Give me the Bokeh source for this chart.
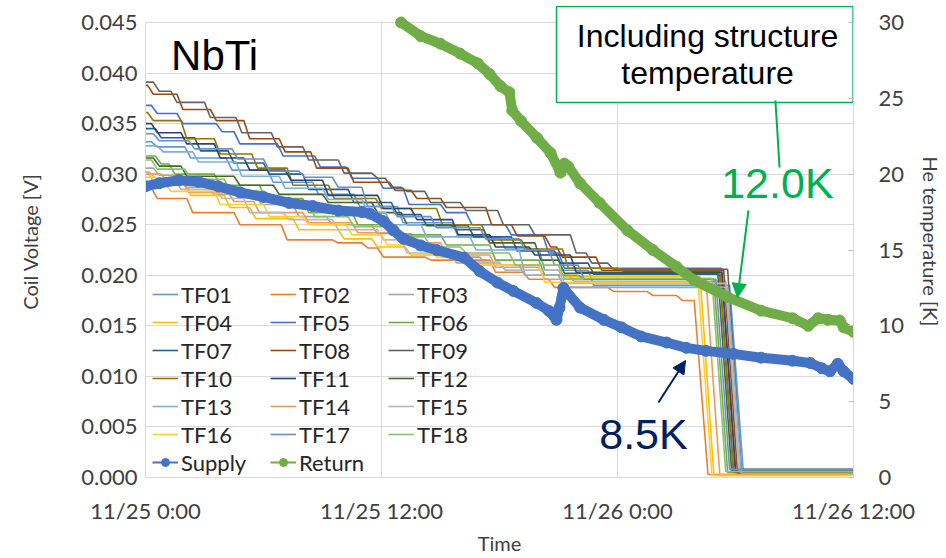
from bokeh.plotting import figure
from bokeh.models import (Range1d, LinearAxis, FixedTicker, Legend, LegendItem, Label,
                          Arrow, NormalHead, NumeralTickFormatter)
from bokeh.embed import file_html
from bokeh.resources import INLINE

# ---------------- data (time = hours from 11/25 0:00) ----------------
x_ticks = [0, 12, 24, 36]
x_labels = ["11/25 0:00", "11/25 12:00", "11/26 0:00", "11/26 12:00"]
v_ticks = [0.000, 0.005, 0.010, 0.015, 0.020, 0.025, 0.030, 0.035, 0.040, 0.045]
k_ticks = [0, 5, 10, 15, 20, 25, 30]

tf_names = ["TF01", "TF02", "TF03", "TF04", "TF05", "TF06", "TF07", "TF08", "TF09",
            "TF10", "TF11", "TF12", "TF13", "TF14", "TF15", "TF16", "TF17", "TF18"]
tf_colors = ["#5B9BD5", "#ED7D31", "#A5A5A5", "#FFC000", "#4472C4", "#70AD47",
             "#255E91", "#9E480E", "#636363", "#997300", "#264478", "#43682B",
             "#7CAFDD", "#F1975A", "#B7B7B7", "#FFCD33", "#698ED0", "#8CC168"]

# step levels of each coil voltage: (hour, volt)
tf01 = [(0, 0.0332), (0.3, 0.0327), (2.0, 0.0316), (4.1, 0.0304), (6.2, 0.0292), (8.5, 0.0280),
        (10.6, 0.0268), (12.8, 0.0252), (15.6, 0.0238), (18.0, 0.0226), (20.0, 0.0205), (22.5, 0.0190)]
tf02 = [(0, 0.0286), (0.3, 0.0276), (2.1, 0.0262), (4.5, 0.0250), (6.9, 0.0235), (9.5, 0.0232),
        (11.0, 0.0227), (11.8, 0.0218), (14.2, 0.0215), (17.5, 0.0203), (19.2, 0.0196), (20.5, 0.0188),
        (23.5, 0.0184), (25.5, 0.0180), (27.0, 0.0175)]
tf03 = [(0, 0.0306), (0.4, 0.0299), (1.8, 0.0287), (3.2, 0.0280), (5.6, 0.0270), (7.5, 0.0258),
        (9.2, 0.0250), (11.5, 0.0241), (13.5, 0.0225), (15.0, 0.0218), (17.0, 0.0210), (19.0, 0.0200),
        (21.5, 0.0194)]
tf04 = [(0, 0.0302), (0.1, 0.0293), (2.0, 0.0279), (4.0, 0.0267), (5.3, 0.0256), (7.5, 0.0245),
        (9.8, 0.0236), (11.5, 0.0228), (13.2, 0.0220), (15.5, 0.0212), (18.0, 0.0205), (21.0, 0.0199)]
tf05 = [(0, 0.0368), (0.3, 0.0360), (1.6, 0.0350), (3.6, 0.0342), (4.5, 0.0330), (6.7, 0.0318),
        (8.6, 0.0307), (10.2, 0.0296), (11.8, 0.0286), (13.1, 0.0270), (15.0, 0.0262), (16.3, 0.0250),
        (18.3, 0.0240), (20.2, 0.0222), (21.0, 0.0207)]
tf06 = [(0, 0.0318), (0.5, 0.0310), (1.2, 0.0300), (3.5, 0.0289), (5.8, 0.0276), (8.0, 0.0262),
        (10.5, 0.0250), (12.6, 0.0240), (15.0, 0.0230), (17.5, 0.0215), (20.0, 0.0200), (22.0, 0.0196)]
tf07 = [(0, 0.0345), (0.5, 0.0336), (2.5, 0.0323), (4.2, 0.0311), (6.0, 0.0300), (8.0, 0.0285),
        (10.3, 0.0272), (12.5, 0.0260), (14.0, 0.0249), (16.4, 0.0238), (18.6, 0.0224), (20.8, 0.0212),
        (22.5, 0.0201)]
tf08 = [(0, 0.0388), (0.1, 0.0379), (1.6, 0.0364), (3.3, 0.0353), (5.0, 0.0335), (6.8, 0.0322),
        (8.4, 0.0306), (10.3, 0.0292), (12.4, 0.0284), (13.5, 0.0276), (15.0, 0.0267), (17.3, 0.0250),
        (18.6, 0.0239), (20.3, 0.0228), (20.9, 0.0218), (22.9, 0.0205)]
tf09 = [(0, 0.0391), (0.4, 0.0382), (1.3, 0.0371), (3.0, 0.0356), (4.6, 0.0341), (6.4, 0.0327),
        (8.0, 0.0314), (9.8, 0.0301), (11.5, 0.0296), (12.2, 0.0287), (13.0, 0.0283), (14.2, 0.0272),
        (16.0, 0.0264), (17.9, 0.0250), (19.5, 0.0240), (21.6, 0.0222), (22.4, 0.0212), (23.5, 0.0206)]
tf10 = [(0, 0.0361), (0.1, 0.0353), (1.8, 0.0335), (3.5, 0.0320), (5.4, 0.0306), (7.2, 0.0289),
        (9.3, 0.0276), (11.7, 0.0266), (14.8, 0.0250), (17.1, 0.0235), (19.1, 0.0226), (21.2, 0.0207),
        (24.0, 0.0204)]
tf11 = [(0, 0.0350), (0.3, 0.0341), (1.8, 0.0330), (3.5, 0.0316), (5.0, 0.0304), (7.1, 0.0294),
        (9.0, 0.0279), (11.8, 0.0266), (13.5, 0.0255), (15.6, 0.0240), (17.5, 0.0228), (19.5, 0.0220),
        (21.6, 0.0203)]
tf12 = [(0, 0.0316), (0.4, 0.0308), (1.8, 0.0298), (4.5, 0.0289), (6.5, 0.0280), (9.0, 0.0272),
        (11.5, 0.0262), (13.0, 0.0250), (15.5, 0.0245), (17.2, 0.0232), (19.8, 0.0215), (21.0, 0.0202)]
tf13 = [(0, 0.0328), (0.6, 0.0322), (2.4, 0.0312), (4.6, 0.0298), (6.8, 0.0286), (9.0, 0.0275),
        (11.0, 0.0262), (12.2, 0.0250), (14.0, 0.0238), (16.5, 0.0225), (19.0, 0.0200), (21.0, 0.0188)]
tf14 = [(0, 0.0300), (0.8, 0.0292), (1.9, 0.0282), (4.2, 0.0273), (5.5, 0.0262), (8.0, 0.0252),
        (10.5, 0.0242), (12.8, 0.0232), (15.0, 0.0220), (17.5, 0.0208), (20.0, 0.0196)]
tf15 = [(0, 0.0302), (0.2, 0.0296), (1.5, 0.0285), (3.6, 0.0276), (5.0, 0.0262), (7.0, 0.0255),
        (9.5, 0.0245), (11.8, 0.0235), (13.0, 0.0222), (15.5, 0.0213), (18.0, 0.0205), (21.0, 0.0192)]
tf16 = [(0, 0.0297), (0.5, 0.0290), (1.0, 0.0283), (3.5, 0.0270), (6.0, 0.0258), (8.0, 0.0250),
        (10.2, 0.0240), (12.0, 0.0230), (14.5, 0.0218), (16.5, 0.0210), (20.0, 0.0193)]
tf17 = [(0, 0.0340), (0.4, 0.0333), (2.2, 0.0325), (4.4, 0.0315), (6.0, 0.0303), (7.8, 0.0297),
        (9.5, 0.0287), (11.0, 0.0268), (12.5, 0.0258), (14.5, 0.0247), (17.0, 0.0236), (19.0, 0.0225),
        (20.5, 0.0210), (22.0, 0.0196)]
tf18 = [(0, 0.0314), (0.3, 0.0305), (2.0, 0.0295), (4.0, 0.0283), (6.0, 0.0272), (8.3, 0.0258),
        (10.3, 0.0248), (12.5, 0.0238), (14.2, 0.0228), (16.0, 0.0222), (18.5, 0.0210), (21.0, 0.0197)]
tf_steps = [tf01, tf02, tf03, tf04, tf05, tf06, tf07, tf08, tf09,
            tf10, tf11, tf12, tf13, tf14, tf15, tf16, tf17, tf18]

# hour at which each coil voltage falls, and the level it falls to
drop_hour = [29.7, 27.9, 29.5, 28.2, 29.3, 28.9, 29.2, 29.4, 29.6,
             29.2, 29.3, 29.1, 29.6, 28.5, 29.5, 28.1, 29.0, 28.8]
floor_volt = [0.0005, 0.0003, 0.0006, 0.0002, 0.0007, 0.0005, 0.0006, 0.0004, 0.0008,
              0.0005, 0.0006, 0.0007, 0.0004, 0.0003, 0.0006, 0.0002, 0.0008, 0.0006]

supply_h = [0, 0.7, 1.7, 2.7, 3.7, 4.8, 6.0, 7.3, 8.5, 9.8, 11.0, 11.4, 12.1, 12.6, 13.1, 14.0,
            14.8, 16.2, 17.0, 17.9, 18.7, 19.9, 20.5, 20.9, 21.05, 21.25, 22.1, 23.3, 24.2, 25.2,
            26.5, 27.5, 28.5, 29.9, 31.3, 32.9, 33.8, 34.4, 34.8, 35.2, 35.5, 36.0]
supply_k = [19.2, 19.4, 19.6, 19.5, 19.2, 18.8, 18.5, 18.1, 17.9, 17.6, 17.5, 17.4, 16.9, 16.3, 15.75,
            15.3, 15.0, 14.5, 13.6, 12.85, 12.3, 11.5, 11.0, 10.4, 11.2, 12.5, 11.2, 10.4, 9.9, 9.3,
            8.9, 8.55, 8.35, 8.15, 7.9, 7.7, 7.55, 7.2, 7.0, 7.5, 7.0, 6.5]
return_h = [13.0, 14.0, 15.0, 16.0, 16.9, 17.5, 18.05, 18.5, 18.65, 19.1, 19.9, 20.6, 21.1, 21.3,
            21.5, 22.1, 23.1, 24.5, 25.8, 27.0, 27.9, 29.6, 31.3, 32.9, 33.7, 34.2, 34.7, 35.3, 35.5, 36.0]
return_k = [30.0, 29.1, 28.6, 27.95, 27.3, 26.6, 25.8, 25.4, 24.2, 23.5, 22.4, 21.4, 20.1, 20.7,
            20.5, 19.4, 18.1, 16.3, 15.0, 13.9, 13.0, 11.9, 11.0, 10.5, 10.0, 10.5, 10.4, 10.35, 9.9, 9.6]

# ---------------- figure ----------------
GRID = "#D9D9D9"
TXT = "#404040"
TICKFONT = "Lato"
V_MAX = 0.045
K_MAX = 30
HEADROOM = 472.0 / 455.0   # plot frame extends a little above 0.045 so the note box fits
p = figure(width=946, height=558, x_range=Range1d(0, 36), y_range=Range1d(0, V_MAX * HEADROOM),
           output_backend="svg", toolbar_location=None,
           min_border_left=145, min_border_right=93, min_border_top=5, min_border_bottom=81)
p.extra_y_ranges = {"temp": Range1d(0, K_MAX * HEADROOM)}
p.outline_line_color = None
p.background_fill_color = "white"
p.border_fill_color = "white"

# grids: horizontal from ticker, vertical drawn only up to 0.045
p.xgrid.visible = False
p.ygrid.ticker = FixedTicker(ticks=v_ticks)
p.ygrid.grid_line_color = GRID
p.ygrid.grid_line_width = 1
p.segment(x0=x_ticks, y0=[0] * len(x_ticks), x1=x_ticks, y1=[V_MAX] * len(x_ticks),
          line_color=GRID, line_width=1)

# left axis
ya = p.yaxis[0]
ya.ticker = FixedTicker(ticks=v_ticks)
ya.formatter = NumeralTickFormatter(format="0.000")
ya.axis_label = "Coil Voltage [V]"
ya.bounds = (0, V_MAX)
# bottom axis
xa = p.xaxis[0]
xa.ticker = FixedTicker(ticks=x_ticks)
xa.major_label_overrides = {t: l for t, l in zip(x_ticks, x_labels)}
xa.axis_label = "Time"
# right axis
ra = LinearAxis(y_range_name="temp", ticker=FixedTicker(ticks=k_ticks), axis_label="He temperature [K]",
                bounds=(0, K_MAX))
p.add_layout(ra, "right")

for ax in (ya, xa, ra):
    ax.axis_line_color = GRID
    ax.major_tick_out = 0
    ax.major_tick_in = 0
    ax.minor_tick_out = 0
    ax.minor_tick_in = 0
    ax.major_label_text_font = TICKFONT
    ax.major_label_text_font_size = "22px"
    ax.major_label_text_color = TXT
    ax.axis_label_text_font = TICKFONT
    ax.axis_label_text_font_size = "20px"
    ax.axis_label_text_font_style = "normal"
    ax.axis_label_text_color = TXT
ra.major_tick_in = 5
ra.major_tick_line_color = "#BFBFBF"
ya.major_label_standoff = 8
ya.axis_label_standoff = 36
xa.major_label_standoff = 19
xa.axis_label_standoff = 4
ra.major_label_standoff = 25
ra.axis_label_standoff = 12

# ---------------- coil voltage lines ----------------
tf_renderers = []
for steps, td, vf, col in zip(tf_steps, drop_hour, floor_volt, tf_colors):
    xs = [steps[0][0]]
    ys = [steps[0][1]]
    for t, v in steps[1:]:
        xs += [t, t + 0.3]
        ys += [ys[-1], v]
    xs += [td, td + 0.7, 36]
    ys += [ys[-1], vf, vf]
    r = p.line(xs, ys, line_color=col, line_width=1.6)
    tf_renderers.append(r)

# ---------------- He temperatures ----------------
SUP = "#4472C4"
RET = "#70AD47"
p.line(supply_h, supply_k, y_range_name="temp", line_color=SUP, line_width=10, line_join="round", line_cap="round")
p.scatter(supply_h, supply_k, y_range_name="temp", marker="circle", size=11, fill_color=SUP, line_color=SUP)
p.line(return_h, return_k, y_range_name="temp", line_color=RET, line_width=10, line_join="round", line_cap="round")
p.scatter(return_h, return_k, y_range_name="temp", marker="circle", size=11, fill_color=RET, line_color=RET)

# legend-only glyphs for Supply / Return (placed outside the visible ranges)
sup_l = p.line([-10, -9], [-1, -1], line_color=SUP, line_width=2)
sup_m = p.scatter([-10], [-1], marker="circle", size=7, fill_color=SUP, line_color=SUP)
ret_l = p.line([-10, -9], [-1, -1], line_color=RET, line_width=2)
ret_m = p.scatter([-10], [-1], marker="circle", size=7, fill_color=RET, line_color=RET)

cols = [[], [], []]
for i, (nm, r) in enumerate(zip(tf_names, tf_renderers)):
    cols[i % 3].append(LegendItem(label=nm, renderers=[r]))
cols[0].append(LegendItem(label="Supply", renderers=[sup_l, sup_m]))
cols[1].append(LegendItem(label="Return", renderers=[ret_l, ret_m]))

for items, lx, ly in zip(cols, [7, 125, 243], [1, 1, 29]):
    lg = Legend(items=items, location=(lx, ly), orientation="vertical",
                padding=0, margin=0, spacing=0, label_height=28, glyph_height=20,
                glyph_width=26, label_standoff=3,
                label_text_font=TICKFONT, label_text_font_size="22px", label_text_color="#262626",
                background_fill_alpha=0, border_line_color=None)
    p.add_layout(lg, "center")

# ---------------- annotations ----------------
GREEN = "#00B050"
NAVY = "#002060"
p.quad(left=20.9, right=35.98, top=0.04658, bottom=0.03709,
       fill_color="white", line_color=GREEN, line_width=1.5)
AR = "Liberation Sans"
p.add_layout(Label(x=28.58, y=0.04371, text="Including structure", text_font=AR,
                   text_font_size="32px", text_align="center", text_baseline="alphabetic", text_color="black"))
p.add_layout(Label(x=28.58, y=0.04005, text="temperature", text_font=AR,
                   text_font_size="32px", text_align="center", text_baseline="alphabetic", text_color="black"))
p.add_layout(Label(x=1.3, y=0.04173, text="NbTi", text_font=AR, text_font_size="42px",
                   text_align="left", text_baseline="alphabetic", text_color="black"))
p.add_layout(Label(x=32.13, y=0.02908, text="12.0K", text_font=AR, text_font_size="43px",
                   text_align="center", text_baseline="alphabetic", text_color=GREEN))
p.add_layout(Label(x=25.32, y=0.00435, text="8.5K", text_font=AR, text_font_size="43px",
                   text_align="center", text_baseline="alphabetic", text_color=NAVY))

p.add_layout(Arrow(end=None, x_start=32.03, y_start=0.03729, x_end=32.24, y_end=0.03066,
                   line_color=GREEN, line_width=2))
p.add_layout(Arrow(end=NormalHead(size=14, fill_color=GREEN, line_color=GREEN),
                   x_start=30.66, y_start=0.02641, x_end=30.10, y_end=0.01780,
                   line_color=GREEN, line_width=2))
p.add_layout(Arrow(end=NormalHead(size=13, fill_color=NAVY, line_color=NAVY),
                   x_start=26.08, y_start=0.00742, x_end=27.46, y_end=0.01157,
                   line_color=NAVY, line_width=2))

open("out.html", "w").write(file_html(p, INLINE))
